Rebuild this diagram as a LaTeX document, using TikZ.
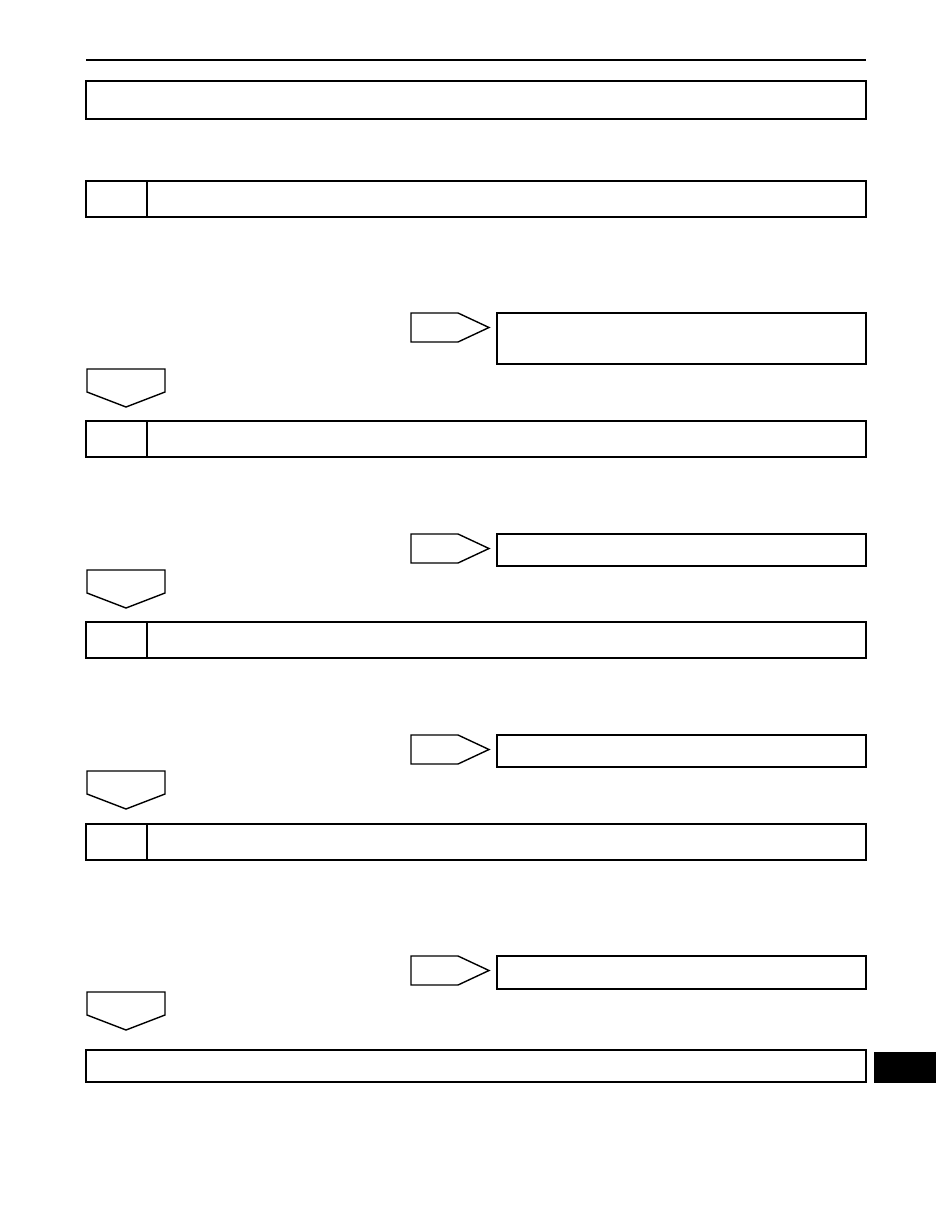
\documentclass[tikz,border=0pt]{standalone}
\begin{document}
\begin{tikzpicture}[x=1pt,y=-1pt,every node/.style={draw,line width=1.4pt,inner sep=0pt,outer sep=0pt},
  cell/.style={anchor=north west,minimum height=36pt},
  tagbox/.style={draw=none,anchor=north west,minimum width=78pt}]
\useasboundingbox (0,0) rectangle (935,1210);
\coordinate (rl) at (86,60);
\coordinate (rr) at (866,60);
\draw [line width=1.4pt] (rl) -- (rr);

\node (title) [anchor=north west,line width=2.5pt,minimum width=780pt,minimum height=38pt] at (86,81) {};

\foreach \n/\y in {1/181,2/421,3/622,4/824} {
  \node (num\n) [cell,minimum width=61pt] at (86,\y) {};
  \node (step\n) [cell,minimum width=719pt] at (147,\y) {};
}

\foreach \n/\y/\h in {1/313/51,2/534/32,3/735/32,4/956/33}
  \node (res\n) [anchor=north west,minimum width=369pt,minimum height=\h pt] at (497,\y) {};

% side tags pointing to the result boxes
\foreach \n/\y in {1/313,2/534,3/735,4/956} {
  \node (side\n) [tagbox,minimum height=29pt] at (411,\y) {};
  \draw [line width=1.4pt,line join=miter]
    (side\n.north west) -- ([xshift=-31pt]side\n.north east) -- (side\n.east)
    -- ([xshift=-31pt]side\n.south east) -- (side\n.south west) -- cycle;
}

% down tags between the steps
\foreach \n/\y in {1/369,2/570,3/771,4/992} {
  \node (down\n) [tagbox,minimum height=38pt] at (87,\y) {};
  \draw [line width=1.4pt,line join=miter]
    (down\n.north west) -- (down\n.north east) -- ([yshift=15pt]down\n.south east)
    -- (down\n.south) -- ([yshift=15pt]down\n.south west) -- cycle;
}

\node (last) [anchor=north west,minimum width=780pt,minimum height=32pt] at (86,1050) {};
\node (tab) [anchor=north west,fill=black,minimum width=60pt,minimum height=29pt] at (875,1053) {};
\end{tikzpicture}
\end{document}
